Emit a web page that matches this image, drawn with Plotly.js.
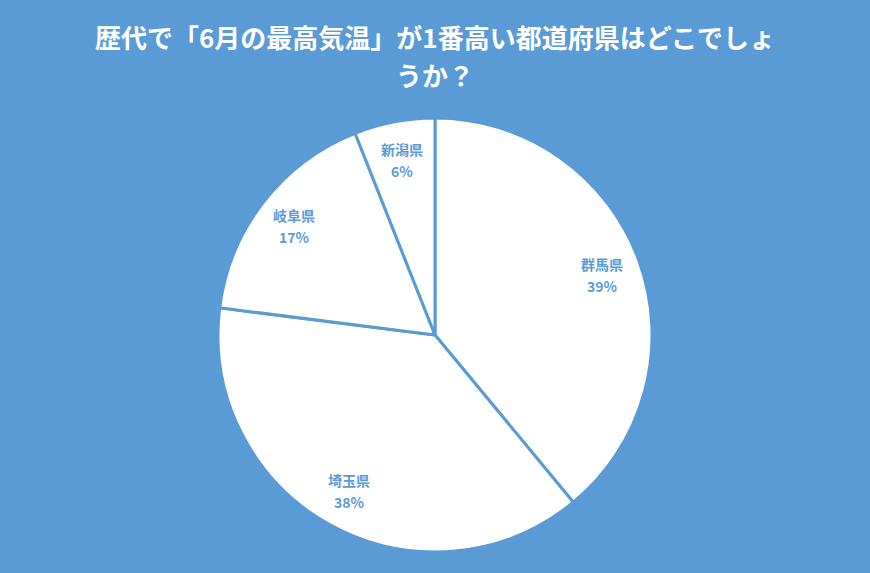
<!DOCTYPE html>
<html>
<head>
<meta charset="utf-8">
<script src="https://cdn.plot.ly/plotly-3.0.1.min.js"></script>
<style>
  body { margin: 0; background: #5B9BD5; }
  #chart { width: 870px; height: 573px; }
</style>
</head>
<body>
<div id="chart"></div>
<script>
// 値はグラフから読み取り
var prefs = ['群馬県', '埼玉県', '岐阜県', '新潟県'];
var shares = [39, 38, 17, 6];
var titleLines = ['歴代で「6月の最高気温」が1番高い都道府県はどこでしょ', 'うか？'];

var bg = '#5B9BD5';
var font = '"Noto Sans CJK JP", "Noto Sans", sans-serif';

var data = [{
  type: 'pie',
  labels: prefs,
  values: shares,
  sort: false,
  direction: 'clockwise',
  rotation: 0,
  textinfo: 'none',
  hoverinfo: 'label+percent',
  marker: { colors: prefs.map(function () { return '#ffffff'; }), line: { color: bg, width: 3 } },
  showlegend: false
}];

var W = 870, H = 573, mTop = 118, mBottom = 21;
var R = (H - mTop - mBottom) / 2;
function py2paper(py) { return 1 - (py - mTop) / (2 * R); }

// ラベル位置はデータの累積角度から計算
var total = shares.reduce(function (a, b) { return a + b; }, 0);
var cum = 0;
var annotations = [];
for (var i = 0; i < prefs.length; i++) {
  var mid = (cum + shares[i] / 2) / total * 2 * Math.PI;
  cum += shares[i];
  var rr = R * 0.82;
  var px = W / 2 + rr * Math.sin(mid);
  var py = mTop + R - rr * Math.cos(mid);
  [prefs[i], shares[i] + '%'].forEach(function (t, k) {
    annotations.push({
      xref: 'paper', yref: 'paper',
      x: px / W, y: py2paper(py), xanchor: 'center', yanchor: 'middle',
      yshift: k === 0 ? 11 : -11,
      text: '<b>' + t + '</b>',
      showarrow: false,
      font: { family: font, size: 14, color: bg }
    });
  });
}

// タイトル（2行）
[37, 75].forEach(function (y, k) {
  annotations.push({
    xref: 'paper', yref: 'paper',
    x: 0.5, y: py2paper(y), xanchor: 'center', yanchor: 'middle',
    text: '<b>' + titleLines[k] + '</b>',
    showarrow: false,
    font: { family: font, size: 26, color: '#ffffff' }
  });
});

var layout = {
  width: W, height: H,
  paper_bgcolor: bg,
  plot_bgcolor: bg,
  margin: { l: 0, r: 0, t: mTop, b: mBottom },
  annotations: annotations
};

Plotly.newPlot('chart', data, layout, { displayModeBar: false, staticPlot: true });
</script>
</body>
</html>
